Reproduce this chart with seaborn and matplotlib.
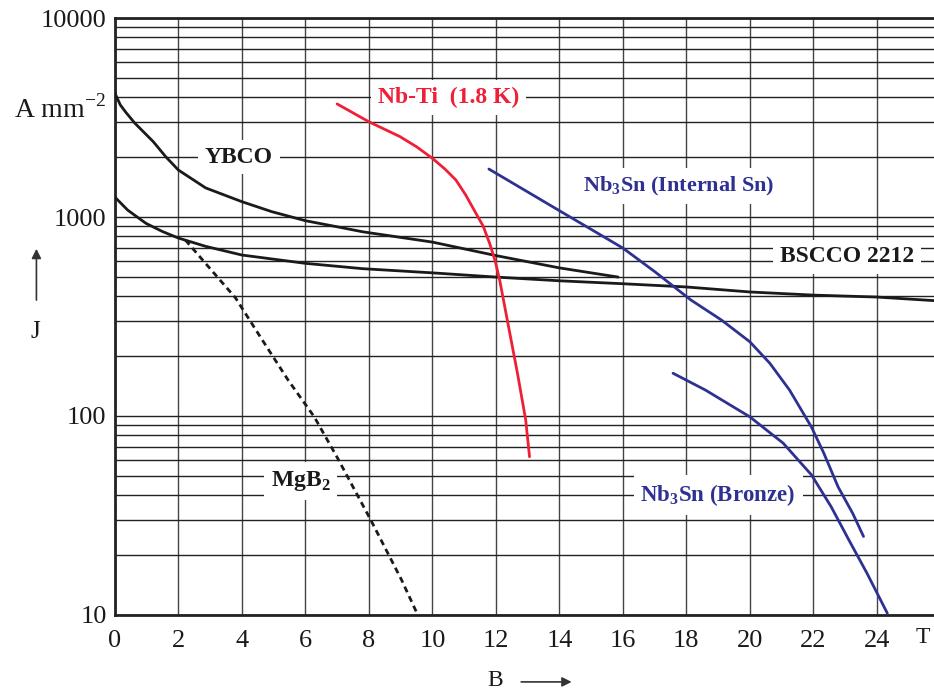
import numpy as np
import pandas as pd
import matplotlib
matplotlib.use("Agg")
import matplotlib.pyplot as plt
import seaborn as sns

## data (B in T, J in A/mm2)

ybco_b = [0, 0.17, 0.35, 0.63, 1.21, 1.6, 2.0, 2.86, 4.0, 4.94, 6.0, 7.0, 7.8, 10, 12, 14, 15.85]
ybco_j = [4190, 3660, 3350, 2960, 2390, 2010, 1722, 1400, 1194, 1064, 958, 893, 843, 748, 640, 555, 499]

bscco_b = [0, 0.4, 0.98, 1.5, 2.0, 2.86, 4.0, 6.0, 7.8, 10, 12, 14, 16, 18, 20, 22, 24, 25.8]
bscco_j = [1259, 1084, 929, 845, 784, 712, 644, 585, 550, 524, 499, 478, 462, 445, 420, 405, 396, 380]

mgb2_b = [2.22, 3.0, 3.8, 4.6, 5.45, 6.28, 7.0, 8.06, 9.03, 9.54]
mgb2_j = [766, 550, 392, 247, 152, 99, 62, 30, 15, 10]

nbti_b = [7.0, 8.0, 8.98, 9.5, 10.0, 10.4, 10.74, 11.05, 11.37, 11.6, 11.8, 11.98, 12.12, 12.38, 12.68, 12.94, 13.06]
nbti_j = [3700, 3010, 2535, 2255, 1972, 1740, 1535, 1290, 1045, 900, 740, 600, 482, 292, 164, 95.5, 62.4]

nb3sn_int_b = [11.78, 13, 14, 15, 16, 17, 18.14, 19.1, 20.0, 20.63, 21.25, 21.94, 22.33, 22.78, 23.24, 23.58]
nb3sn_int_j = [1742, 1337, 1076, 867, 698, 532, 383, 304, 236, 184, 135, 88, 65, 44, 32.4, 24.8]

nb3sn_br_b = [17.58, 18.6, 20.0, 21.05, 21.94, 22.56, 23.12, 23.69, 24.33]
nb3sn_br_j = [164, 135, 99, 73, 50.6, 35, 23.8, 16.2, 10.2]

x_ticks = [0, 2, 4, 6, 8, 10, 12, 14, 16, 18, 20, 22, 24]
y_ticks = [10, 100, 1000, 10000]

red = "#ee1f36"
blue = "#2e3192"

## style

sns.set_style("white")
plt.rcParams["font.family"] = ["Liberation Serif", "DejaVu Serif"]
plt.rcParams["mathtext.fontset"] = "custom"
plt.rcParams["mathtext.rm"] = "Liberation Serif"
plt.rcParams["mathtext.bf"] = "Liberation Serif:bold"

fig = plt.figure(figsize=(9.34, 6.93), dpi=100)
ax = fig.add_axes([0.123, 0.1126, 0.877, 0.8614])

def curve(b, j, color, ls="-"):
    df = pd.DataFrame({"B": b, "J": j})
    sns.lineplot(data=df, x="B", y="J", ax=ax, color=color, lw=2.0,
                 linestyle=ls, estimator=None, sort=False, zorder=5)

curve(ybco_b, ybco_j, "#1a1a1a")
curve(bscco_b, bscco_j, "#1a1a1a")
curve(mgb2_b, mgb2_j, "#1a1a1a", ls=(0, (2.2, 1.6)))
curve(nbti_b, nbti_j, red)
curve(nb3sn_int_b, nb3sn_int_j, blue)
curve(nb3sn_br_b, nb3sn_br_j, blue)

ax.set_yscale("log")
ax.set_xlim(0, 25.8)
ax.set_ylim(10, 10000)
ax.set_xticks(x_ticks)
ax.set_xticklabels([str(t) for t in x_ticks])
ax.set_yticks(y_ticks)
ax.set_yticklabels([str(t) for t in y_ticks])
ax.yaxis.set_minor_locator(matplotlib.ticker.LogLocator(base=10, subs=np.arange(2, 10)))
ax.yaxis.set_minor_formatter(matplotlib.ticker.NullFormatter())
ax.tick_params(axis="both", which="both", length=0, labelsize=19, colors="#1a1a1a")
ax.tick_params(axis="x", pad=11)
ax.tick_params(axis="y", pad=6)
ax.set_xlabel("")
ax.set_ylabel("")

ax.grid(True, which="major", axis="x", color="#444444", lw=1.0)
ax.grid(True, which="both", axis="y", color="#222222", lw=1.0)
ax.set_axisbelow(True)

for s in ["left", "bottom", "top"]:
    ax.spines[s].set_color("#222222")
    ax.spines[s].set_linewidth(2.0)
ax.spines["right"].set_visible(False)

## curve labels with white boxes cutting the grid

box = dict(facecolor="white", edgecolor="none", pad=5)
lab = dict(fontweight="bold", ha="center", va="center", bbox=box, zorder=4)
ax.text(3.9, 2000, "YBCO", color="#1a1a1a", fontsize=17, **lab)
ax.text(10.5, 4000, "Nb-Ti  (1.8 K)", color=red, fontsize=17, **lab)
ax.text(17.75, 1430, r"Nb$_\mathbf{3}$Sn (Internal Sn)", color=blue, fontsize=16, **lab)
ax.text(23.05, 630, "BSCCO 2212", color="#1a1a1a", fontsize=17, **lab)
ax.text(5.85, 47, r"MgB$_\mathbf{2}$", color="#1a1a1a", fontsize=17, **lab)
ax.text(19.0, 40, r"Nb$_\mathbf{3}$Sn (Bronze)", color=blue, fontsize=16.5, **lab)

## axis annotations

fig.text(0.064, 0.842, r"A mm$^{-2}$", fontsize=20, ha="center", va="center", color="#1a1a1a")
fig.text(0.038, 0.521, "J", fontsize=18, ha="center", va="center", color="#1a1a1a")
fig.text(0.53, 0.018, "B", fontsize=17, ha="center", va="center", color="#1a1a1a")
fig.text(0.988, 0.08, "T", fontsize=17, ha="center", va="center", color="#1a1a1a")
fig.add_artist(matplotlib.patches.FancyArrowPatch((0.039, 0.563), (0.039, 0.645),
               transform=fig.transFigure, arrowstyle="-|>", mutation_scale=14,
               color="#333333", lw=1.2))
fig.add_artist(matplotlib.patches.FancyArrowPatch((0.555, 0.016), (0.615, 0.016),
               transform=fig.transFigure, arrowstyle="-|>", mutation_scale=14,
               color="#333333", lw=1.2))

plt.savefig("out.png", dpi=100)
